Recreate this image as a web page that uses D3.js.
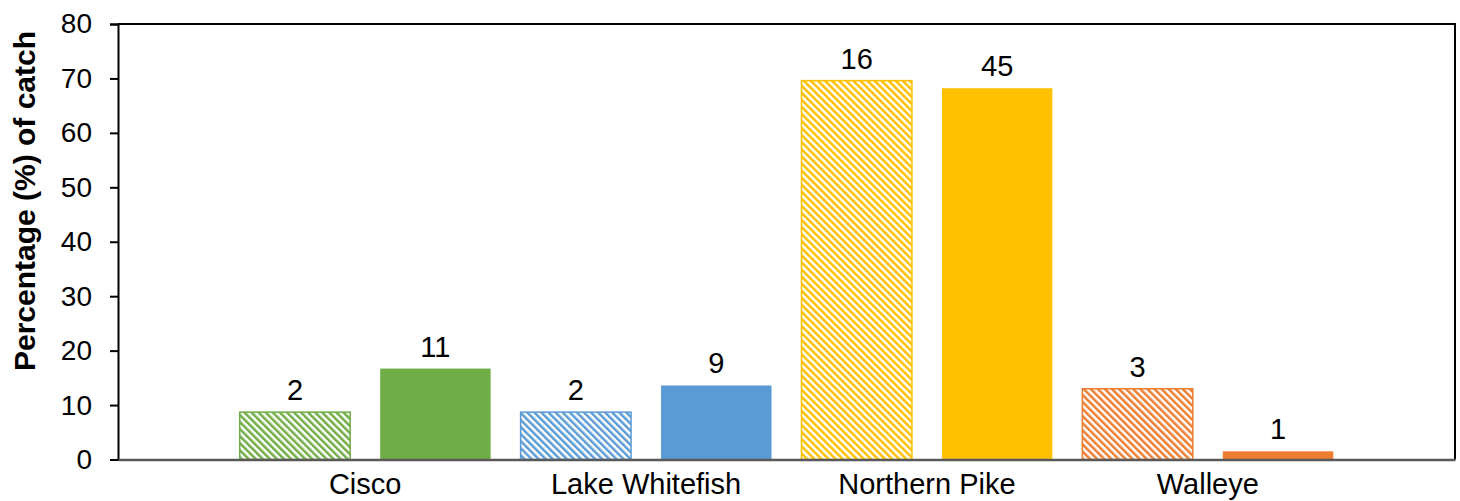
<!DOCTYPE html>
<html>
<head>
<meta charset="utf-8">
<script src="https://cdn.jsdelivr.net/npm/d3@7"></script>
<style>
  html, body { margin: 0; padding: 0; background: #fff; }
  text { font-family: 'Liberation Sans', Arial, sans-serif; fill: #000; }
</style>
</head>
<body>
<div id="app"></div>
<script>
const species = ['Cisco', 'Lake Whitefish', 'Northern Pike', 'Walleye'];
const series = ['hatched', 'solid'];
const hatchedPct = [8.7, 8.7, 69.6, 13.0];
const solidPct = [16.7, 13.6, 68.2, 1.5];
const hatchedCount = [2, 2, 16, 3];
const solidCount = [11, 9, 45, 1];
const speciesColors = ['#70AD47', '#5B9BD5', '#FFC000', '#ED7D31'];
const yTicks = [0, 10, 20, 30, 40, 50, 60, 70, 80];

(() => {
  const width = 1460;
  const height = 501;
  const plot = { left: 118, right: 1455, top: 24, bottom: 459.5 };

  const rows = [];
  species.forEach((sp, i) => {
    rows.push({ sp, i, kind: 'hatched', pct: hatchedPct[i], n: hatchedCount[i] });
    rows.push({ sp, i, kind: 'solid', pct: solidPct[i], n: solidCount[i] });
  });

  const svg = d3.select('#app')
    .append('svg')
    .attr('width', width)
    .attr('height', height);

  // one diagonal hatch per species colour
  const defs = svg.append('defs');
  speciesColors.forEach((c, i) => {
    const p = defs.append('pattern')
      .attr('id', `hatch-${i}`)
      .attr('patternUnits', 'userSpaceOnUse')
      .attr('width', 5)
      .attr('height', 10)
      .attr('patternTransform', 'rotate(-45)');
    p.append('rect').attr('width', 5).attr('height', 10).attr('fill', '#fff');
    p.append('line')
      .attr('x1', 1.25).attr('y1', 0)
      .attr('x2', 1.25).attr('y2', 10)
      .attr('stroke', c)
      .attr('stroke-width', 2.5);
  });

  const x = d3.scaleBand()
    .domain(species)
    .range([plot.left, plot.right])
    .paddingInner(0)
    .paddingOuter(0.38);

  const xSub = d3.scaleBand()
    .domain(series)
    .range([0, x.bandwidth()])
    .paddingInner(0.2135)
    .paddingOuter(0.1068);

  const y = d3.scaleLinear()
    .domain([0, 80])
    .range([plot.bottom, plot.top]);

  // frame (top and right)
  svg.append('path')
    .attr('d', `M${plot.left},${plot.top}H${plot.right}V${plot.bottom}`)
    .attr('fill', 'none')
    .attr('stroke', '#000')
    .attr('stroke-width', 2);

  // bars
  svg.selectAll('rect.bar')
    .data(rows)
    .enter()
    .append('rect')
    .attr('class', 'bar')
    .attr('x', d => x(d.sp) + xSub(d.kind))
    .attr('y', d => y(d.pct))
    .attr('width', xSub.bandwidth())
    .attr('height', d => y(0) - y(d.pct))
    .attr('fill', d => (d.kind === 'hatched' ? `url(#hatch-${d.i})` : speciesColors[d.i]))
    .attr('stroke', d => (d.kind === 'hatched' ? speciesColors[d.i] : 'none'))
    .attr('stroke-width', 1.5);

  // count labels above bars
  svg.selectAll('text.count')
    .data(rows)
    .enter()
    .append('text')
    .attr('class', 'count')
    .text(d => d.n)
    .attr('x', d => x(d.sp) + xSub(d.kind) + xSub.bandwidth() / 2)
    .attr('y', d => y(d.pct) - 12)
    .attr('font-size', '29px')
    .style('text-anchor', 'middle');

  // y axis
  const yAxis = svg.append('g')
    .attr('transform', `translate(${plot.left},0)`)
    .call(d3.axisLeft(y).tickValues(yTicks).tickSize(8).tickPadding(18));
  yAxis.select('.domain').attr('stroke', '#000').attr('stroke-width', 2);
  yAxis.selectAll('.tick line').attr('stroke', '#000').attr('stroke-width', 2);
  yAxis.selectAll('.tick text')
    .attr('font-size', '28px')
    .attr('font-family', "'Liberation Sans', Arial, sans-serif")
    .attr('fill', '#000');

  // x axis
  const xAxis = svg.append('g')
    .attr('transform', `translate(0,${plot.bottom})`)
    .call(d3.axisBottom(x).tickSize(0).tickPadding(0));
  xAxis.select('.domain').attr('stroke', '#595959').attr('stroke-width', 2.5);
  xAxis.selectAll('.tick text')
    .attr('y', 34.5)
    .attr('dy', 0)
    .attr('font-size', '29px')
    .attr('font-family', "'Liberation Sans', Arial, sans-serif")
    .attr('fill', '#000');

  // y title
  svg.append('text')
    .text('Percentage (%) of catch')
    .attr('transform', 'translate(35,201) rotate(-90)')
    .attr('font-size', '30px')
    .attr('font-weight', 700)
    .style('text-anchor', 'middle');
})();
</script>
</body>
</html>
